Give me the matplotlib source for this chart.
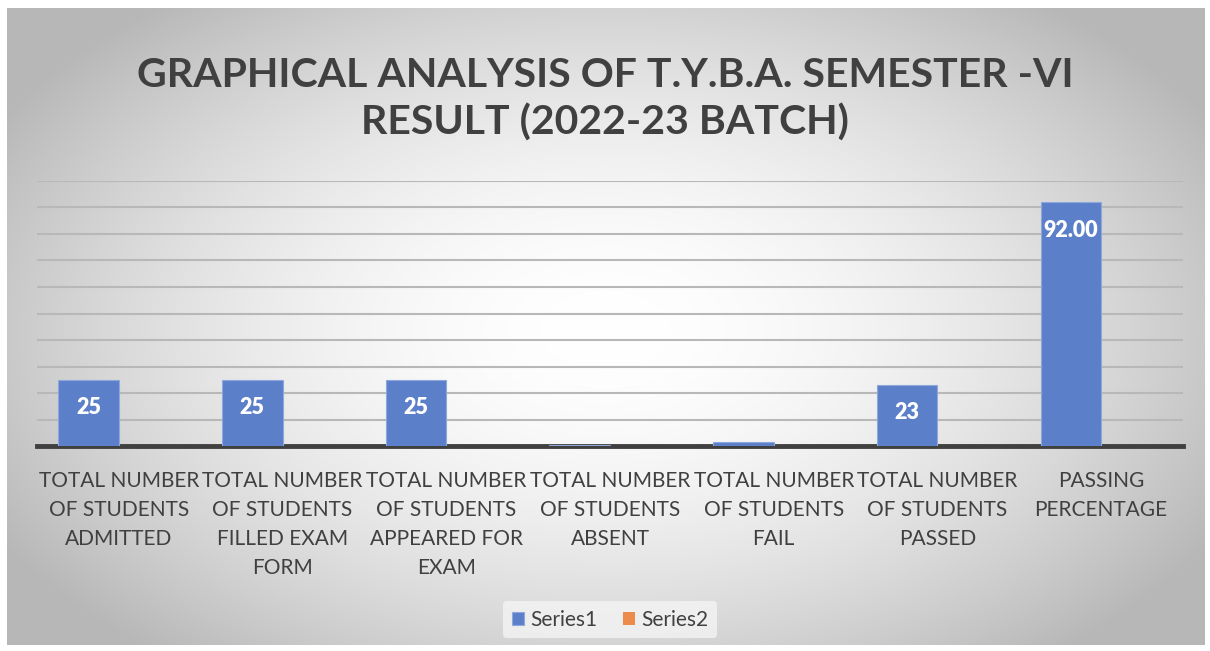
import numpy as np
import matplotlib
matplotlib.use('Agg')
from matplotlib import pyplot as plt

plt.rcParams['font.family'] = ['Lato', 'DejaVu Sans']

categories = ['TOTAL NUMBER\nOF STUDENTS\nADMITTED',
              'TOTAL NUMBER\nOF STUDENTS\nFILLED EXAM\nFORM',
              'TOTAL NUMBER\nOF STUDENTS\nAPPEARED FOR\nEXAM',
              'TOTAL NUMBER\nOF STUDENTS\nABSENT',
              'TOTAL NUMBER\nOF STUDENTS\nFAIL',
              'TOTAL NUMBER\nOF STUDENTS\nPASSED',
              'PASSING\nPERCENTAGE']
series1 = [25, 25, 25, 0.5, 1.5, 23, 92]
series2 = [0, 0, 0, 0, 0, 0, 0]
labels1 = ['25', '25', '25', '', '', '23', '92.00']

fig = plt.figure(figsize=(12.1, 6.51), dpi=100)

# radial gradient background with frame
bg = fig.add_axes([0, 0, 1, 1], zorder=-10)
yy, xx = np.mgrid[0:651, 0:1210]
r = np.sqrt(((xx - 605) / 700.0) ** 2 + ((yy - 330) / 420.0) ** 2)
shade = np.clip(1.0 - 0.28 * r ** 1.8, 0.72, 1.0)
img = np.dstack([shade, shade, shade])
img[:8, :] = 1
img[645:, :] = 1
img[:, :7] = 1
img[:, 1205:] = 1
bg.imshow(img, aspect='auto', interpolation='bilinear')
bg.axis('off')

ax = fig.add_axes([37 / 1210, 1 - 446 / 651, (1183 - 37) / 1210, (446 - 181) / 651])
ax.patch.set_alpha(0)
x = np.arange(len(categories))
w = 0.37
b1 = ax.bar(x - w / 2, series1, w, color='#5b7fc9', edgecolor='#8ea8dc', linewidth=0.8, label='Series1', zorder=3)
ax.bar(x + w / 2, series2, w, color='#ed8b4b', label='Series2', zorder=3)

for rect, lab in zip(b1, labels1):
    if lab:
        ax.text(rect.get_x() + rect.get_width() / 2, rect.get_height() - 10.5, lab,
                ha='center', va='center', color='white', fontsize=15.5, fontweight='heavy', zorder=4)

ax.set_xlim(-0.5, len(categories) - 0.5)
ax.set_ylim(0, 100)
ax.set_yticks(np.arange(0, 101, 10))
ax.yaxis.grid(True, color='#b8b8b8', linewidth=1.5)
ax.set_axisbelow(True)
ax.tick_params(axis='y', left=False, labelleft=False)
ax.tick_params(axis='x', length=0, pad=18)
ax.set_xticks(x)
ax.set_xticklabels(categories, fontsize=15, color='#404040', linespacing=1.56, va='top')
for s in ['top', 'right', 'left']:
    ax.spines[s].set_visible(False)
ax.spines['bottom'].set_color('#404040')
ax.spines['bottom'].set_linewidth(3.5)

fig.text(0.5, 1 - 99 / 651, 'GRAPHICAL ANALYSIS OF T.Y.B.A. SEMESTER -VI\nRESULT (2022-23 BATCH)',
         ha='center', va='center', fontsize=29.5, fontweight='bold', color='#404040', linespacing=1.3)

leg = ax.legend(loc='center', bbox_to_anchor=(0.5, -0.655), ncol=2, frameon=True, fontsize=15,
                handlelength=0.6, handleheight=0.6, handletextpad=0.3, columnspacing=1.2,
                labelcolor='#404040')
leg.get_frame().set_facecolor('#f4f4f4')
leg.get_frame().set_edgecolor('none')

plt.savefig('out.png', dpi=100)
